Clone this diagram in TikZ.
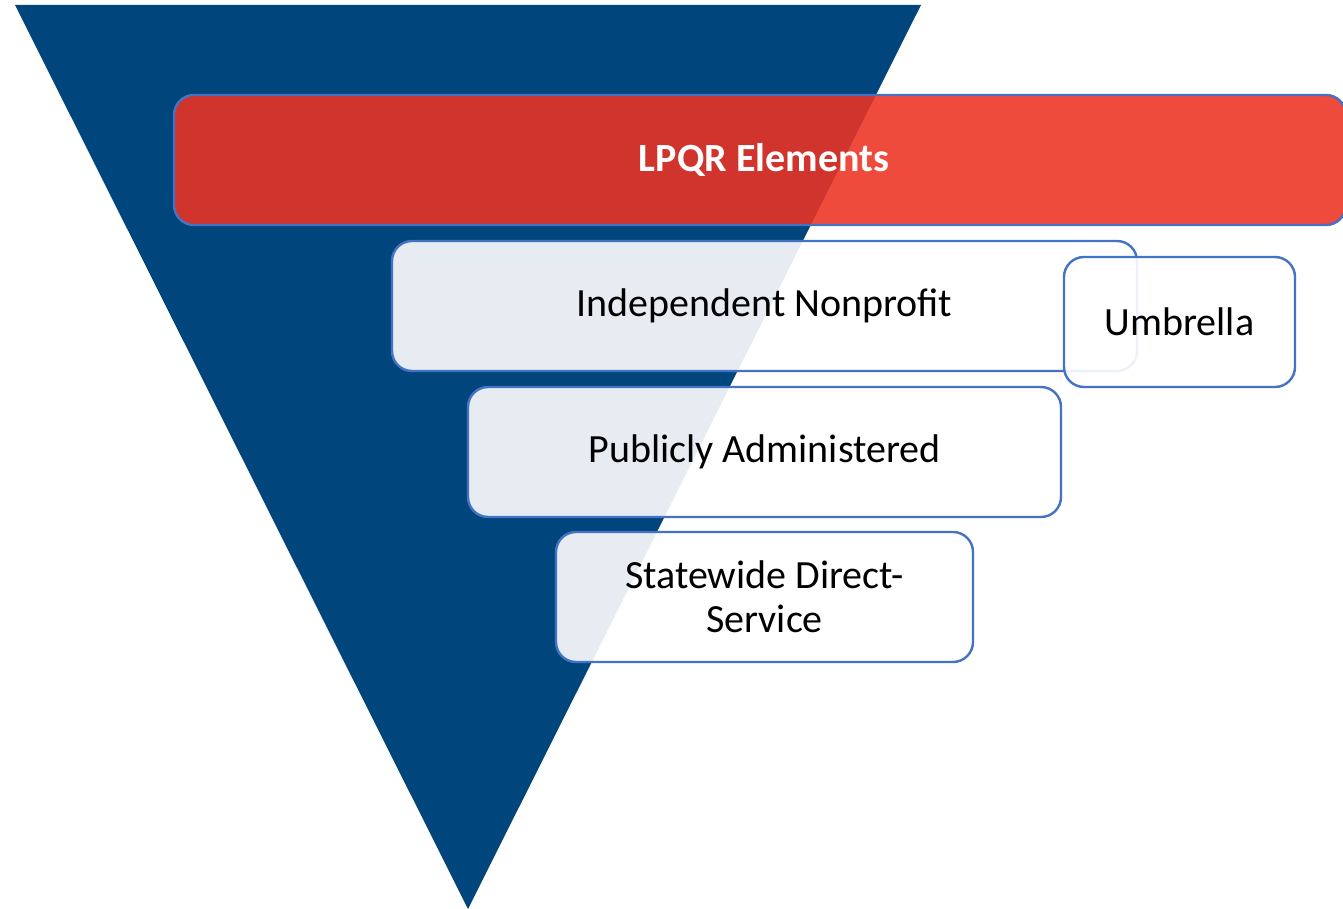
\documentclass[tikz,border=0pt]{standalone}
\usepackage{fontspec}
\setmainfont{Carlito}
\definecolor{navy}{RGB}{0,70,124}
\definecolor{bordblue}{RGB}{68,114,196}
\definecolor{lpqrred}{RGB}{237,50,34}
\begin{document}
\begin{tikzpicture}[x=1pt,y=-1pt,
  lbl/.style={font=\fontsize{40}{44}\selectfont, text=black, text opacity=1, align=center},
  itembox/.style={lbl, draw=bordblue, line width=2.4pt, rounded corners=20pt, fill=white, fill opacity=0.9, draw opacity=1, inner sep=0pt},
  redbox/.style={draw=bordblue, line width=2.4pt, rounded corners=20pt, fill=lpqrred, fill opacity=0.88, draw opacity=1, inner sep=0pt}]
\useasboundingbox (0,0) rectangle (1343,909);
\fill[navy] (15,5) -- (921,5) -- (468,909) -- cycle;
\node[redbox, minimum width=1172pt, minimum height=130pt] (red) at (760,160) {};
\node[font=\bfseries\fontsize{40}{44}\selectfont, text=white] (redtxt) at (764,160) {LPQR Elements};
\node[itembox, minimum width=745pt, minimum height=130pt] (ind) at (764.5,306) {Independent Nonprofit};
\node[itembox, minimum width=231pt, minimum height=130pt] (umb) at (1179.5,322) {Umbrella};
\node[itembox, minimum width=593pt, minimum height=130pt] (pub) at (764.5,452) {Publicly Administered};
\node[itembox, minimum width=417pt, minimum height=130pt] (sds) at (764.5,597) {Statewide Direct-\\Service};
\end{tikzpicture}
\end{document}
